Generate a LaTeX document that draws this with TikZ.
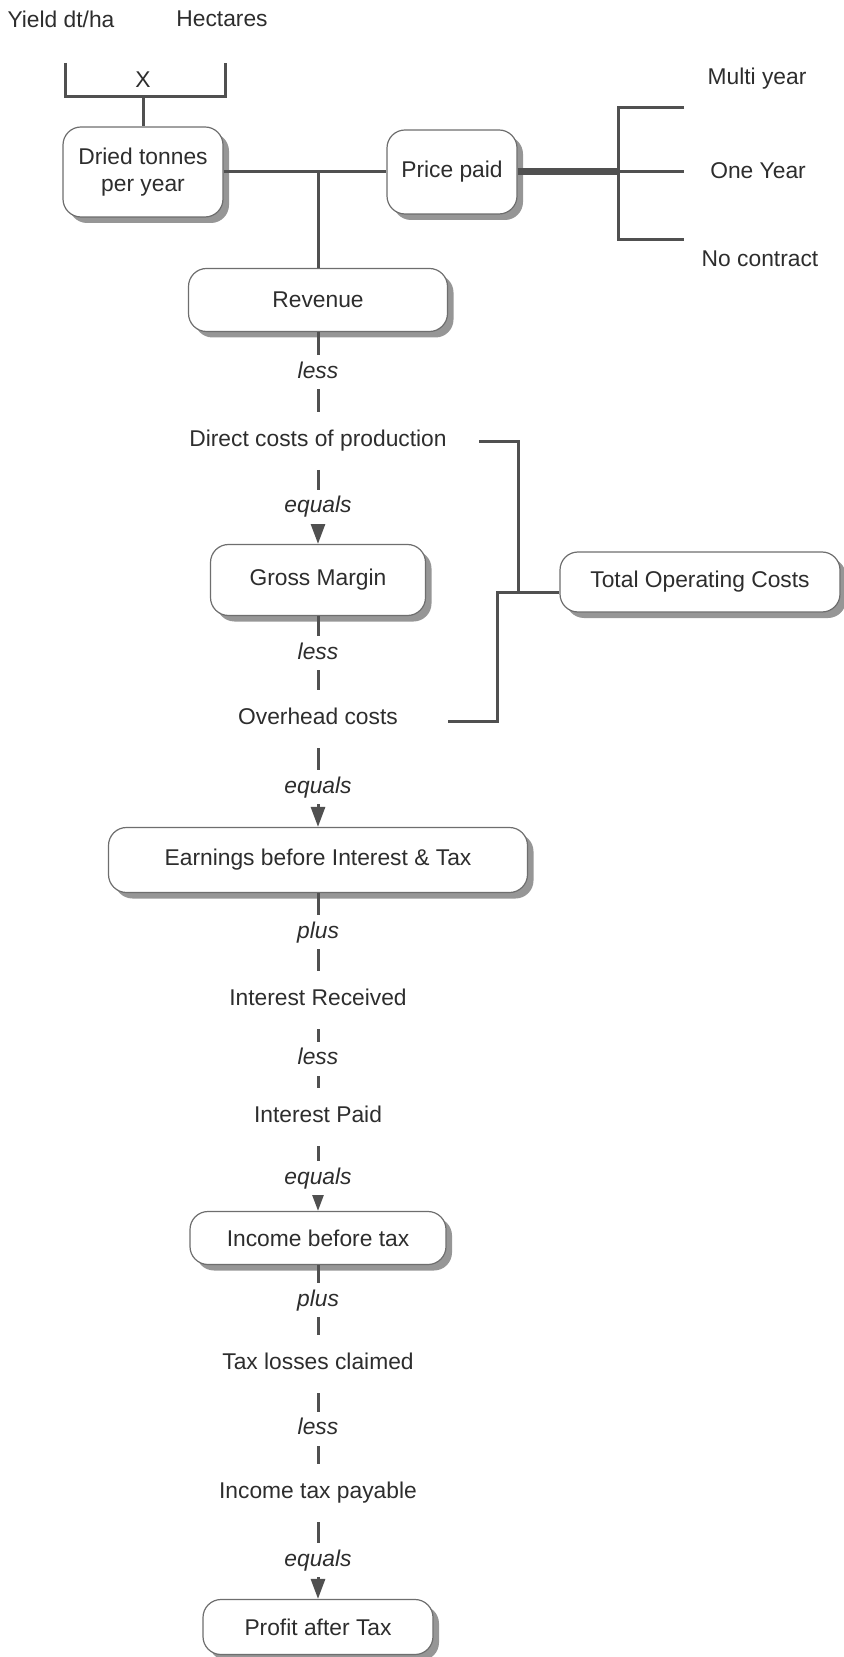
\documentclass[tikz,border=0pt]{standalone}
\usepackage{fontspec}
\setmainfont{Liberation Sans}
\usepackage{tikz}
\usetikzlibrary{arrows.meta,shadows}
\definecolor{linegray}{RGB}{80,80,80}
\definecolor{boxgray}{RGB}{110,110,110}
\definecolor{shadegray}{RGB}{150,150,150}
\definecolor{textgray}{RGB}{45,45,45}

\begin{document}
\begin{tikzpicture}[x=0.5pt,y=-0.5pt,
    every node/.style={font=\fontsize{11.4}{13.7}\selectfont, text=textgray},
    box/.style={draw=boxgray, line width=0.6pt, fill=white, rounded corners=9pt, align=center,
        drop shadow={shadow xshift=3pt, shadow yshift=-3pt, fill=shadegray, opacity=1}},
    item/.style={inner xsep=2pt, inner ysep=9pt, text height=8.2pt, text depth=2.4pt},
    op/.style={fill=white, inner xsep=2pt, inner ysep=3.5pt, text height=8pt, text depth=2pt,
        font=\fontsize{11.4}{13.7}\selectfont\itshape},
    conn/.style={draw=linegray, line width=1.5pt},
    res/.style={conn, -{Triangle[width=7pt,length=10pt]}}]
    \useasboundingbox (0,0) rectangle (844,1657);

    % inputs
    \node (yield) at (61,19) {Yield dt/ha};
    \node (hect) at (222,19) {Hectares};
    \node (times) at (143,80) {X};
    \node (multi) at (757,79) {Multi year};
    \node (oneyr) at (758,171) {One Year};
    \node (nocon) at (760,259) {No contract};

    % boxes and items
    \node[box, minimum width=80pt, minimum height=45pt] (dried) at (143,172) {Dried tonnes\\per year};
    \node[box, minimum width=65pt, minimum height=42pt] (price) at (452,172) {Price paid};
    \node[box, minimum width=129.5pt, minimum height=31.5pt] (revenue) at (318,300) {Revenue};
    \node[item] (direct) at (318,441) {Direct costs of production};
    \node[box, minimum width=107.5pt, minimum height=35.5pt] (gross) at (318,580) {Gross Margin};
    \node[item] (overhead) at (318,719) {Overhead costs};
    \node[box, minimum width=209.5pt, minimum height=32.5pt] (ebit) at (318,860) {Earnings before Interest \& Tax};
    \node[item] (intrec) at (318,1000) {Interest Received};
    \node[item] (intpaid) at (318,1117) {Interest Paid};
    \node[box, minimum width=128pt, minimum height=26.5pt] (ibt) at (318,1238) {Income before tax};
    \node[item] (taxloss) at (318,1364) {Tax losses claimed};
    \node[item] (inctax) at (318,1493) {Income tax payable};
    \node[box, minimum width=115pt, minimum height=27.5pt] (profit) at (318,1627) {Profit after Tax};
    \node[box, minimum width=140pt, minimum height=30pt] (toc) at (700,582) {Total Operating Costs};

    % yield x hectares
    \coordinate (yb) at (65,63);
    \coordinate (hb) at (225,63);
    \coordinate (xb) at (143,97);
    \draw[conn] (yb) |- (xb) -| (hb);
    \draw[conn] (xb) -- (dried.north);

    % tonnes and price
    \draw[conn] (dried.east) -- (price.west);
    \draw[conn] (dried.east -| revenue.north) -- (revenue.north);
    \coordinate (pjoin) at (618,172);
    \coordinate (ptop) at (684,108);
    \coordinate (pmid) at (684,172);
    \coordinate (pbot) at (684,240);
    \draw[conn, line width=3.5pt] (price.east) -- (pjoin);
    \draw[conn] (ptop) -| (pjoin) |- (pbot);
    \draw[conn] (pjoin) -- (pmid);

    % main column
    \draw[conn] (revenue) -- node[op]{less} (direct);
    \draw[res] (direct) -- node[op]{equals} (gross);
    \draw[conn] (gross) -- node[op]{less} (overhead);
    \draw[res] (overhead) -- node[op]{equals} (ebit);
    \draw[conn] (ebit) -- node[op]{plus} (intrec);
    \draw[conn] (intrec) -- node[op]{less} (intpaid);
    \draw[res] (intpaid) -- node[op]{equals} (ibt);
    \draw[conn] (ibt) -- node[op]{plus} (taxloss);
    \draw[conn] (taxloss) -- node[op]{less} (inctax);
    \draw[res] (inctax) -- node[op]{equals} (profit);

    % operating costs bracket
    \coordinate (dcend) at (479,442);
    \coordinate (tocup) at (518,592);
    \coordinate (ohend) at (448,721);
    \coordinate (toclow) at (497,592);
    \draw[conn] (dcend) -| (tocup) -- (toc.west |- tocup);
    \draw[conn] (ohend) -| (toclow) -- (tocup);
\end{tikzpicture}
\end{document}
